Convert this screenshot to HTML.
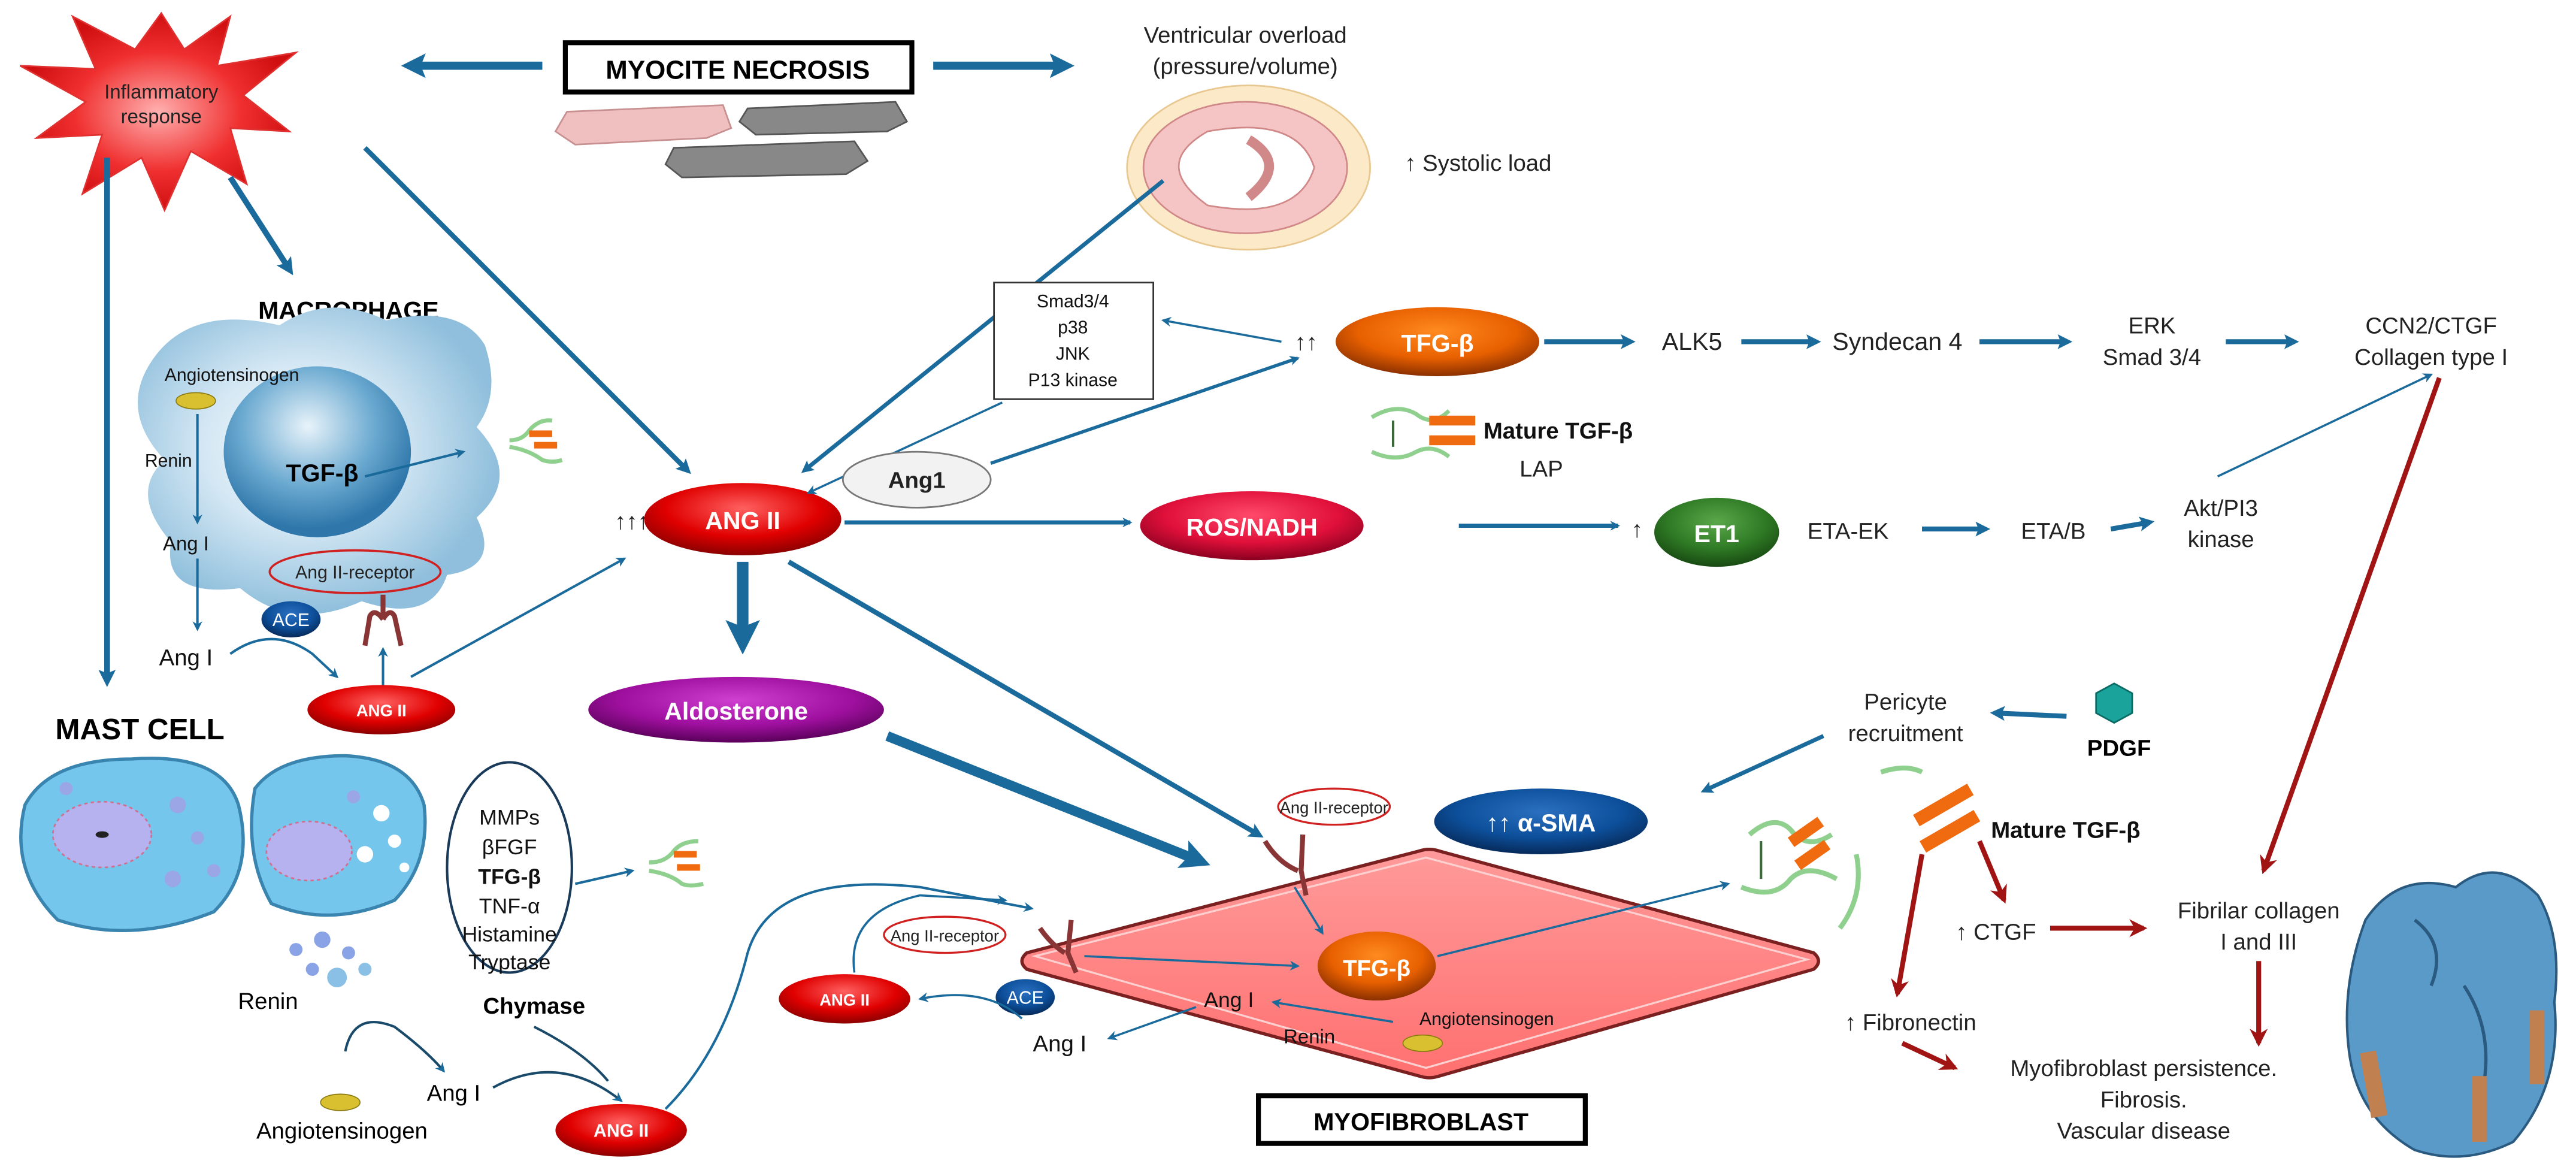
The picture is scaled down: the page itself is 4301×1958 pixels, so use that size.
<!DOCTYPE html>
<html><head><meta charset="utf-8"><style>
html,body{margin:0;padding:0;background:#fff;}
svg{display:block;}
text{font-family:"Liberation Sans",sans-serif;}
</style></head><body>
<svg width="4301" height="1958" viewBox="0 0 1568 714" xmlns="http://www.w3.org/2000/svg">
<defs>
<marker id="ab" viewBox="0 0 10 10" refX="8" refY="5" markerWidth="6" markerHeight="6" orient="auto" markerUnits="userSpaceOnUse"><path d="M0,0 L10,5 L0,10 L3,5z" fill="#1a6a9c"/></marker>
<marker id="abt" viewBox="0 0 10 10" refX="6" refY="5" markerWidth="3" markerHeight="3" orient="auto" markerUnits="strokeWidth"><path d="M0,0 L10,5 L0,10 L2,5z" fill="#1a6a9c"/></marker>
<marker id="ar" viewBox="0 0 10 10" refX="8" refY="5" markerWidth="11" markerHeight="11" orient="auto" markerUnits="userSpaceOnUse"><path d="M0,0 L10,5 L0,10 L3,5z" fill="#a01414"/></marker>
<radialGradient id="gred" cx="50%" cy="35%" r="65%"><stop offset="0" stop-color="#ff6060"/><stop offset="0.6" stop-color="#e00000"/><stop offset="1" stop-color="#8a0000"/></radialGradient>
<radialGradient id="gor" cx="50%" cy="35%" r="65%"><stop offset="0" stop-color="#ff8a20"/><stop offset="0.6" stop-color="#e86000"/><stop offset="1" stop-color="#8a3000"/></radialGradient>
<radialGradient id="gcr" cx="50%" cy="35%" r="65%"><stop offset="0" stop-color="#ff4a6a"/><stop offset="0.6" stop-color="#e0103a"/><stop offset="1" stop-color="#8a0020"/></radialGradient>
<radialGradient id="ggr" cx="50%" cy="35%" r="65%"><stop offset="0" stop-color="#5aa84a"/><stop offset="0.6" stop-color="#2f7a25"/><stop offset="1" stop-color="#184a12"/></radialGradient>
<radialGradient id="gpu" cx="50%" cy="35%" r="65%"><stop offset="0" stop-color="#d040d0"/><stop offset="0.6" stop-color="#a010a0"/><stop offset="1" stop-color="#5a005a"/></radialGradient>
<radialGradient id="gbl" cx="50%" cy="35%" r="65%"><stop offset="0" stop-color="#2a70c0"/><stop offset="0.6" stop-color="#0d4f9a"/><stop offset="1" stop-color="#062a5a"/></radialGradient>
<radialGradient id="gstar" cx="50%" cy="50%" r="50%"><stop offset="0" stop-color="#ffb0b0"/><stop offset="0.6" stop-color="#f03030"/><stop offset="1" stop-color="#d01010"/></radialGradient>
<radialGradient id="gmac" cx="45%" cy="45%" r="55%"><stop offset="0" stop-color="#ffffff"/><stop offset="0.5" stop-color="#d2e6f3"/><stop offset="1" stop-color="#8fbfdc"/></radialGradient>
<radialGradient id="gnuc" cx="45%" cy="35%" r="60%"><stop offset="0" stop-color="#e8f3fa"/><stop offset="0.6" stop-color="#6aa9d0"/><stop offset="1" stop-color="#2f77aa"/></radialGradient>
<linearGradient id="gmyo" x1="0" y1="0" x2="0" y2="1"><stop offset="0" stop-color="#ff9a9a"/><stop offset="1" stop-color="#ff7070"/></linearGradient>
</defs>

<!-- Inflammatory star -->
<polygon points="98,8 112,30 140,10 132,40 180,32 148,58 176,80 140,78 150,112 116,92 100,128 86,96 50,118 62,82 22,84 52,62 12,40 58,42 44,10 82,30" fill="url(#gstar)" stroke="#e03030" stroke-width="1"/>
<text x="98" y="60" font-size="12" text-anchor="middle" fill="#222">Inflammatory</text>
<text x="98" y="75" font-size="12" text-anchor="middle" fill="#222">response</text>

<!-- Myocite necrosis -->
<rect x="344" y="26" width="211" height="30" fill="#fff" stroke="#000" stroke-width="3"/>
<text x="449" y="48" font-size="16" font-weight="bold" text-anchor="middle">MYOCITE NECROSIS</text>
<line x1="330" y1="40" x2="250" y2="40" stroke="#1a6a9c" stroke-width="5" marker-end="url(#abt)"/>
<line x1="568" y1="40" x2="648" y2="40" stroke="#1a6a9c" stroke-width="5" marker-end="url(#abt)"/>
<!-- fibers -->
<path d="M345,68 L440,64 L445,78 L430,84 L350,88 L338,80z" fill="#f0c0c0" stroke="#c89090"/>
<path d="M455,66 L545,62 L552,74 L540,80 L460,82 L450,74z" fill="#888" stroke="#555"/>
<path d="M410,90 L520,86 L528,98 L515,106 L415,108 L405,100z" fill="#888" stroke="#555"/>

<!-- Ventricular -->
<text x="758" y="26" font-size="14" text-anchor="middle" fill="#222">Ventricular overload</text>
<text x="758" y="45" font-size="14" text-anchor="middle" fill="#222">(pressure/volume)</text>
<ellipse cx="760" cy="102" rx="74" ry="50" fill="#fbe9c8" stroke="#e8c890"/>
<ellipse cx="758" cy="102" rx="62" ry="40" fill="#f5c4c4" stroke="#d08888"/>
<path d="M735,80 Q700,100 735,125 Q790,135 800,102 Q790,70 735,80z" fill="#fff" stroke="#d08888"/>
<path d="M760,85 Q785,100 760,120" fill="none" stroke="#d08888" stroke-width="6"/>
<text x="855" y="104" font-size="14" fill="#222">↑ Systolic load</text>

<!-- macrophage -->
<text x="212" y="194" font-size="15" font-weight="bold" text-anchor="middle">MACROPHAGE</text>
<path d="M92,220 Q115,185 170,198 Q200,178 235,195 Q280,185 295,210 Q305,240 290,260 Q318,290 290,315 Q305,345 272,350 Q262,380 220,366 Q178,385 146,358 Q98,364 104,330 Q78,300 100,280 Q72,250 92,220z" fill="url(#gmac)"/>
<ellipse cx="193" cy="275" rx="57" ry="52" fill="url(#gnuc)"/>
<text x="100" y="232" font-size="11" fill="#111">Angiotensinogen</text>
<ellipse cx="119" cy="244" rx="12" ry="5" fill="#d8c030" stroke="#8a7a10" stroke-width="0.6"/>
<line x1="120" y1="252" x2="120" y2="318" stroke="#1a6a9c" stroke-width="1.5" marker-end="url(#ab)"/>
<text x="88" y="284" font-size="11" fill="#111">Renin</text>
<text x="113" y="335" font-size="12" fill="#111" text-anchor="middle">Ang I</text>
<line x1="120" y1="340" x2="120" y2="383" stroke="#1a6a9c" stroke-width="1.5" marker-end="url(#ab)"/>
<text x="196" y="293" font-size="15" font-weight="bold" text-anchor="middle">TGF-β</text>
<line x1="222" y1="290" x2="282" y2="275" stroke="#1a6a9c" stroke-width="1.5" marker-end="url(#ab)"/>
<path d="M310,268 Q318,268 322,262 Q328,255 336,256" fill="none" stroke="#8fd08f" stroke-width="2.5"/>
<path d="M310,272 Q322,274 330,280 Q336,282 342,280" fill="none" stroke="#8fd08f" stroke-width="2.5"/>
<rect x="322" y="262" width="14" height="4" fill="#f06a10"/><rect x="325" y="269" width="14" height="4" fill="#f06a10"/>
<ellipse cx="216" cy="348" rx="52" ry="13" fill="none" stroke="#d02020" stroke-width="1.3"/>
<text x="216" y="352" font-size="11" text-anchor="middle" fill="#222">Ang II-receptor</text>
<ellipse cx="177" cy="377" rx="18" ry="11" fill="url(#gbl)"/>
<text x="177" y="381" font-size="11" fill="#fff" text-anchor="middle">ACE</text>
<path d="M222,393 L225,375 Q228,370 233,377 M244,393 L240,375 Q237,370 233,377 M233,377 L233,362" fill="none" stroke="#8a3535" stroke-width="3"/>
<text x="113" y="405" font-size="14" text-anchor="middle" fill="#111">Ang I</text>
<path d="M140,398 Q165,380 190,398 L205,412" fill="none" stroke="#1a6a9c" stroke-width="1.5" marker-end="url(#ab)"/>
<line x1="233" y1="418" x2="233" y2="395" stroke="#1a6a9c" stroke-width="1.5" marker-end="url(#ab)"/>
<line x1="250" y1="412" x2="380" y2="340" stroke="#1a6a9c" stroke-width="1.5" marker-end="url(#ab)"/>
<ellipse cx="232" cy="432" rx="45" ry="15" fill="url(#gred)"/>
<text x="232" y="436" font-size="10" font-weight="bold" fill="#fff" text-anchor="middle">ANG II</text>

<!-- left arrows -->
<line x1="65" y1="96" x2="65" y2="414" stroke="#1a6a9c" stroke-width="3.5" marker-end="url(#abt)"/>
<line x1="140" y1="108" x2="176" y2="164" stroke="#1a6a9c" stroke-width="3.5" marker-end="url(#abt)"/>
<line x1="222" y1="90" x2="418" y2="286" stroke="#1a6a9c" stroke-width="3" marker-end="url(#abt)"/>

<!-- mast cell -->
<text x="85" y="450" font-size="18" font-weight="bold" text-anchor="middle">MAST CELL</text>
<path d="M15,490 Q30,462 80,462 Q135,458 145,490 Q155,530 130,555 Q80,575 35,560 Q5,530 15,490z" fill="#74c6ec" stroke="#3a84b0" stroke-width="2"/>
<ellipse cx="62" cy="508" rx="30" ry="20" fill="#b6b2f0" stroke="#d07090" stroke-dasharray="2,2"/>
<ellipse cx="62" cy="508" rx="4" ry="2" fill="#222"/>
<circle cx="108" cy="490" r="5" fill="#9aa6e6"/><circle cx="120" cy="510" r="4" fill="#9aa6e6"/><circle cx="105" cy="535" r="5" fill="#9aa6e6"/><circle cx="40" cy="480" r="4" fill="#9aa6e6"/><circle cx="130" cy="530" r="4" fill="#9aa6e6"/>
<path d="M155,480 Q170,460 210,460 Q250,462 258,490 Q262,525 240,548 Q200,565 165,550 Q148,520 155,480z" fill="#74c6ec" stroke="#3a84b0" stroke-width="2"/>
<ellipse cx="188" cy="518" rx="26" ry="18" fill="#b6b2f0" stroke="#d07090" stroke-dasharray="2,2"/>
<circle cx="232" cy="495" r="5" fill="#fff"/><circle cx="240" cy="512" r="4" fill="#fff"/><circle cx="222" cy="520" r="5" fill="#fff"/><circle cx="246" cy="528" r="3" fill="#fff"/><circle cx="215" cy="485" r="4" fill="#9aa6e6"/>
<circle cx="180" cy="578" r="4" fill="#8aa2e6"/><circle cx="196" cy="572" r="5" fill="#8aa2e6"/><circle cx="212" cy="580" r="4" fill="#8aa2e6"/><circle cx="190" cy="590" r="4" fill="#8aa2e6"/><circle cx="205" cy="595" r="6" fill="#8ac0e6"/><circle cx="222" cy="590" r="4" fill="#8ac0e6"/>
<ellipse cx="310" cy="528" rx="38" ry="64" fill="#fff" stroke="#1a3a5a" stroke-width="1.5"/>
<g font-size="13" text-anchor="middle" fill="#111"><text x="310" y="502">MMPs</text><text x="310" y="520">βFGF</text><text x="310" y="538" font-weight="bold">TFG-β</text><text x="310" y="556">TNF-α</text><text x="310" y="573">Histamine</text><text x="310" y="590">Tryptase</text></g>
<line x1="350" y1="538" x2="385" y2="530" stroke="#1a6a9c" stroke-width="1.5" marker-end="url(#ab)"/>
<path d="M395,525 Q405,525 410,518 Q415,512 425,512" fill="none" stroke="#8fd08f" stroke-width="2.5"/>
<path d="M395,530 Q408,532 415,538 Q420,540 428,538" fill="none" stroke="#8fd08f" stroke-width="2.5"/>
<rect x="410" y="518" width="14" height="4" fill="#f06a10"/><rect x="412" y="526" width="14" height="4" fill="#f06a10"/>
<text x="163" y="614" font-size="14" text-anchor="middle">Renin</text>
<path d="M210,640 Q215,615 240,625 Q260,640 270,652" fill="none" stroke="#1a4a6a" stroke-width="1.5" marker-end="url(#ab)"/>
<ellipse cx="207" cy="671" rx="12" ry="5" fill="#d8c030" stroke="#8a7a10" stroke-width="0.6"/>
<text x="208" y="693" font-size="14" text-anchor="middle">Angiotensinogen</text>
<text x="276" y="670" font-size="14" text-anchor="middle">Ang I</text>
<text x="325" y="617" font-size="14" font-weight="bold" text-anchor="middle">Chymase</text>
<path d="M300,662 Q340,640 378,670" fill="none" stroke="#1a4a6a" stroke-width="1.5" marker-end="url(#ab)"/>
<path d="M325,625 Q355,640 370,658" fill="none" stroke="#1a4a6a" stroke-width="1.5"/>
<ellipse cx="378" cy="688" rx="40" ry="16" fill="url(#gred)"/>
<text x="378" y="692" font-size="11" font-weight="bold" fill="#fff" text-anchor="middle">ANG II</text>
<path d="M405,675 Q440,640 455,580 Q470,530 560,540 L628,553" fill="none" stroke="#1a6a9c" stroke-width="1.5" marker-end="url(#ab)"/>

<!-- ANG II central -->
<text x="374" y="322" font-size="14" fill="#222">↑↑↑</text>
<ellipse cx="452" cy="316" rx="60" ry="22" fill="url(#gred)"/>
<text x="452" y="322" font-size="15" font-weight="bold" fill="#fff" text-anchor="middle">ANG II</text>
<line x1="708" y1="110" x2="490" y2="286" stroke="#1a6a9c" stroke-width="2.5" marker-end="url(#abt)"/>
<rect x="605" y="172" width="97" height="71" fill="#fff" stroke="#333" stroke-width="1"/>
<g font-size="11" text-anchor="middle" fill="#111"><text x="653" y="187">Smad3/4</text><text x="653" y="203">p38</text><text x="653" y="219">JNK</text><text x="653" y="235">P13 kinase</text></g>
<line x1="780" y1="208" x2="708" y2="195" stroke="#1a6a9c" stroke-width="1.3" marker-end="url(#ab)"/>
<line x1="610" y1="245" x2="492" y2="300" stroke="#1a6a9c" stroke-width="1.3" marker-end="url(#ab)"/>
<ellipse cx="558" cy="292" rx="45" ry="17" fill="#f2f2f2" stroke="#777"/>
<text x="558" y="297" font-size="14" font-weight="bold" text-anchor="middle" fill="#222">Ang1</text>
<line x1="603" y1="282" x2="790" y2="218" stroke="#1a6a9c" stroke-width="2" marker-end="url(#ab)"/>
<text x="788" y="213" font-size="14" fill="#222">↑↑</text>
<ellipse cx="875" cy="208" rx="62" ry="21" fill="url(#gor)"/>
<text x="875" y="214" font-size="15" font-weight="bold" fill="#fff" text-anchor="middle">TFG-β</text>
<line x1="940" y1="208" x2="992" y2="208" stroke="#1a6a9c" stroke-width="3" marker-end="url(#abt)"/>
<text x="1030" y="213" font-size="15" text-anchor="middle" fill="#222">ALK5</text>
<line x1="1060" y1="208" x2="1105" y2="208" stroke="#1a6a9c" stroke-width="3" marker-end="url(#abt)"/>
<text x="1155" y="213" font-size="15" text-anchor="middle" fill="#222">Syndecan 4</text>
<line x1="1205" y1="208" x2="1258" y2="208" stroke="#1a6a9c" stroke-width="3" marker-end="url(#abt)"/>
<text x="1310" y="203" font-size="14" text-anchor="middle" fill="#222">ERK</text>
<text x="1310" y="222" font-size="14" text-anchor="middle" fill="#222">Smad 3/4</text>
<line x1="1355" y1="208" x2="1396" y2="208" stroke="#1a6a9c" stroke-width="3" marker-end="url(#abt)"/>
<text x="1480" y="203" font-size="14" text-anchor="middle" fill="#222">CCN2/CTGF</text>
<text x="1480" y="222" font-size="14" text-anchor="middle" fill="#222">Collagen type I</text>
<!-- mature tgf -->
<path d="M835,254 Q850,245 862,252 Q872,260 882,250" fill="none" stroke="#8fd08f" stroke-width="2.5"/>
<path d="M835,275 Q850,282 862,275 Q872,270 882,278" fill="none" stroke="#8fd08f" stroke-width="2.5"/>
<line x1="848" y1="256" x2="848" y2="272" stroke="#3a6a3a" stroke-width="1.5"/>
<rect x="870" y="253" width="28" height="6" fill="#f06a10"/><rect x="870" y="265" width="28" height="6" fill="#f06a10"/>
<text x="903" y="267" font-size="14" font-weight="bold" fill="#111">Mature TGF-β</text>
<text x="925" y="290" font-size="14" fill="#222">LAP</text>

<line x1="514" y1="318" x2="688" y2="318" stroke="#1a6a9c" stroke-width="2.5" marker-end="url(#ab)"/>
<ellipse cx="762" cy="320" rx="68" ry="21" fill="url(#gcr)"/>
<text x="762" y="326" font-size="15" font-weight="bold" fill="#fff" text-anchor="middle">ROS/NADH</text>
<line x1="888" y1="320" x2="985" y2="320" stroke="#1a6a9c" stroke-width="2.5" marker-end="url(#ab)"/>
<text x="993" y="327" font-size="14" fill="#222">↑</text>
<ellipse cx="1045" cy="324" rx="38" ry="21" fill="url(#ggr)"/>
<text x="1045" y="330" font-size="15" font-weight="bold" fill="#fff" text-anchor="middle">ET1</text>
<text x="1125" y="328" font-size="14" text-anchor="middle" fill="#222">ETA-EK</text>
<line x1="1170" y1="322" x2="1208" y2="322" stroke="#1a6a9c" stroke-width="3" marker-end="url(#abt)"/>
<text x="1250" y="328" font-size="14" text-anchor="middle" fill="#222">ETA/B</text>
<line x1="1285" y1="322" x2="1308" y2="318" stroke="#1a6a9c" stroke-width="3" marker-end="url(#abt)"/>
<text x="1352" y="314" font-size="14" text-anchor="middle" fill="#222">Akt/PI3</text>
<text x="1352" y="333" font-size="14" text-anchor="middle" fill="#222">kinase</text>
<line x1="1350" y1="290" x2="1480" y2="228" stroke="#1a6a9c" stroke-width="1.3" marker-end="url(#ab)"/>
<line x1="1485" y1="230" x2="1378" y2="530" stroke="#a01414" stroke-width="3" marker-end="url(#ar)"/>

<!-- ANG II down -->
<line x1="452" y1="342" x2="452" y2="390" stroke="#1a6a9c" stroke-width="7" marker-end="url(#abt)"/>
<ellipse cx="448" cy="432" rx="90" ry="20" fill="url(#gpu)"/>
<text x="448" y="438" font-size="15" font-weight="bold" fill="#fff" text-anchor="middle">Aldosterone</text>
<line x1="540" y1="448" x2="730" y2="524" stroke="#1a6a9c" stroke-width="6" marker-end="url(#abt)"/>
<line x1="480" y1="342" x2="766" y2="508" stroke="#1a6a9c" stroke-width="3" marker-end="url(#abt)"/>

<!-- pericyte -->
<text x="1160" y="432" font-size="14" text-anchor="middle" fill="#222">Pericyte</text>
<text x="1160" y="451" font-size="14" text-anchor="middle" fill="#222">recruitment</text>
<polygon points="1287,416 1298,422 1298,434 1287,440 1276,434 1276,422" fill="#1aa39a" stroke="#0a6a64"/>
<text x="1290" y="460" font-size="14" font-weight="bold" text-anchor="middle">PDGF</text>
<line x1="1258" y1="436" x2="1215" y2="434" stroke="#1a6a9c" stroke-width="3" marker-end="url(#abt)"/>
<line x1="1110" y1="448" x2="1038" y2="481" stroke="#1a6a9c" stroke-width="2.5" marker-end="url(#abt)"/>
<ellipse cx="938" cy="500" rx="65" ry="20" fill="url(#gbl)"/>
<text x="938" y="506" font-size="15" font-weight="bold" fill="#fff" text-anchor="middle">↑↑ α-SMA</text>

<!-- myofibroblast -->
<path d="M625,580 Q619,585 625,590 L864,655 Q870,657 876,655 L1104,590 Q1110,585 1104,580 L876,518 Q870,516 864,518z" fill="url(#gmyo)" stroke="#7a2020" stroke-width="2"/>
<path d="M630,582 L868,522 L1100,584 L868,650z" fill="none" stroke="#ffd0d0" stroke-width="1.2"/>
<ellipse cx="812" cy="491" rx="34" ry="11" fill="#fff" stroke="#d02020" stroke-width="1.2"/>
<text x="812" y="495" font-size="10" text-anchor="middle" fill="#222">Ang II-receptor</text>
<path d="M770,512 Q778,525 790,530 M793,508 L792,530 L795,545" fill="none" stroke="#8a3535" stroke-width="3"/>
<line x1="788" y1="540" x2="805" y2="568" stroke="#1a6a9c" stroke-width="1.3" marker-end="url(#ab)"/>
<ellipse cx="575" cy="569" rx="37" ry="11" fill="#fff" stroke="#d02020" stroke-width="1.2"/>
<text x="575" y="573" font-size="10" text-anchor="middle" fill="#222">Ang II-receptor</text>
<path d="M633,565 Q640,575 648,580 M652,560 L650,580 L655,592" fill="none" stroke="#8a3535" stroke-width="3"/>
<line x1="660" y1="582" x2="790" y2="588" stroke="#1a6a9c" stroke-width="1.3" marker-end="url(#ab)"/>
<ellipse cx="838" cy="588" rx="36" ry="21" fill="url(#gor)"/>
<text x="838" y="594" font-size="14" font-weight="bold" fill="#fff" text-anchor="middle">TFG-β</text>
<line x1="875" y1="582" x2="1052" y2="538" stroke="#1a6a9c" stroke-width="1.3" marker-end="url(#ab)"/>
<path d="M1065,508 Q1080,495 1090,505 Q1100,518 1115,508" fill="none" stroke="#8fd08f" stroke-width="3"/>
<path d="M1060,540 Q1080,548 1090,535 Q1100,525 1118,535" fill="none" stroke="#8fd08f" stroke-width="3"/>
<line x1="1072" y1="512" x2="1072" y2="535" stroke="#3a6a3a" stroke-width="1.5"/>
<rect x="1088" y="503" width="22" height="7" fill="#f06a10" transform="rotate(-35 1099 506)"/>
<rect x="1092" y="517" width="22" height="7" fill="#f06a10" transform="rotate(-35 1103 520)"/>
<path d="M1145,470 Q1160,465 1170,470" fill="none" stroke="#8fd08f" stroke-width="3"/>
<path d="M1130,520 Q1135,545 1120,565" fill="none" stroke="#8fd08f" stroke-width="3"/>
<rect x="1164" y="486" width="38" height="8" fill="#f06a10" transform="rotate(-30 1183 490)"/>
<rect x="1168" y="502" width="38" height="8" fill="#f06a10" transform="rotate(-30 1187 506)"/>
<text x="1212" y="510" font-size="14" font-weight="bold" fill="#111">Mature TGF-β</text>
<ellipse cx="514" cy="608" rx="40" ry="15" fill="url(#gred)"/>
<text x="514" y="612" font-size="10" font-weight="bold" fill="#fff" text-anchor="middle">ANG II</text>
<path d="M520,592 Q515,555 560,545 L612,548" fill="none" stroke="#1a6a9c" stroke-width="1.3" marker-end="url(#ab)"/>
<ellipse cx="624" cy="607" rx="18" ry="11" fill="url(#gbl)"/>
<text x="624" y="611" font-size="11" fill="#fff" text-anchor="middle">ACE</text>
<path d="M622,620 Q600,600 560,608" fill="none" stroke="#1a6a9c" stroke-width="1.3" marker-end="url(#ab)"/>
<text x="748" y="613" font-size="13" text-anchor="middle" fill="#111">Ang I</text>
<text x="645" y="640" font-size="14" text-anchor="middle" fill="#111">Ang I</text>
<line x1="728" y1="613" x2="675" y2="632" stroke="#1a6a9c" stroke-width="1.3" marker-end="url(#ab)"/>
<text x="797" y="635" font-size="12" text-anchor="middle" fill="#111">Renin</text>
<line x1="848" y1="622" x2="775" y2="610" stroke="#1a6a9c" stroke-width="1.3" marker-end="url(#ab)"/>
<text x="905" y="624" font-size="11" text-anchor="middle" fill="#111">Angiotensinogen</text>
<ellipse cx="866" cy="635" rx="12" ry="5" fill="#d8c030" stroke="#8a7a10" stroke-width="0.6"/>
<rect x="766" y="667" width="199" height="29" fill="#fff" stroke="#000" stroke-width="3"/>
<text x="865" y="688" font-size="15" font-weight="bold" text-anchor="middle">MYOFIBROBLAST</text>

<!-- right red arrows -->
<line x1="1205" y1="512" x2="1220" y2="548" stroke="#a01414" stroke-width="3" marker-end="url(#ar)"/>
<text x="1215" y="572" font-size="14" text-anchor="middle" fill="#222">↑ CTGF</text>
<line x1="1248" y1="565" x2="1305" y2="565" stroke="#a01414" stroke-width="3" marker-end="url(#ar)"/>
<text x="1375" y="559" font-size="14" text-anchor="middle" fill="#222">Fibrilar collagen</text>
<text x="1375" y="578" font-size="14" text-anchor="middle" fill="#222">I and III</text>
<line x1="1375" y1="585" x2="1375" y2="635" stroke="#a01414" stroke-width="3" marker-end="url(#ar)"/>
<line x1="1170" y1="520" x2="1155" y2="605" stroke="#a01414" stroke-width="3" marker-end="url(#ar)"/>
<text x="1163" y="627" font-size="14" text-anchor="middle" fill="#222">↑ Fibronectin</text>
<line x1="1158" y1="635" x2="1190" y2="650" stroke="#a01414" stroke-width="3" marker-end="url(#ar)"/>
<text x="1305" y="655" font-size="14" text-anchor="middle" fill="#222">Myofibroblast persistence.</text>
<text x="1305" y="674" font-size="14" text-anchor="middle" fill="#222">Fibrosis.</text>
<text x="1305" y="693" font-size="14" text-anchor="middle" fill="#222">Vascular disease</text>

<!-- heart -->
<path d="M1440,560 Q1460,530 1495,540 Q1520,520 1545,545 Q1560,570 1555,610 Q1560,660 1530,695 Q1500,710 1470,700 Q1435,680 1430,640 Q1425,600 1440,560z" fill="#5a9ac8" stroke="#2a5a80" stroke-width="1.5"/>
<path d="M1470,560 Q1490,575 1480,600 M1500,600 Q1520,630 1510,670" fill="none" stroke="#2a5a80" stroke-width="2"/>
<rect x="1440" y="640" width="10" height="40" fill="#c08050" transform="rotate(-10 1445 660)"/>
<rect x="1540" y="615" width="9" height="45" fill="#c08050"/>
<rect x="1505" y="655" width="9" height="40" fill="#c08050"/>
</svg>
</body></html>
